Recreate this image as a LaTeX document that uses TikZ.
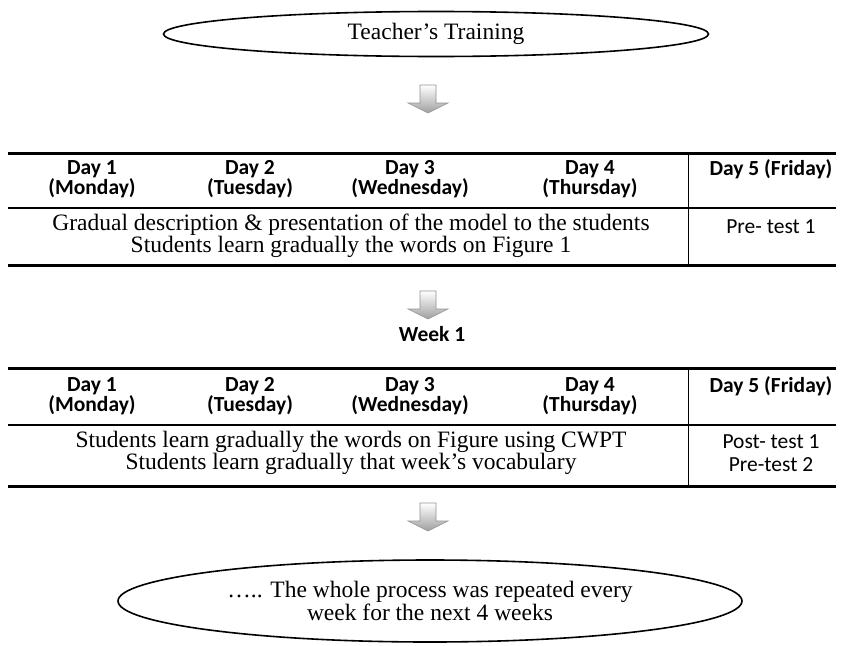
\documentclass[tikz,border=0pt]{standalone}
\usepackage{fontspec}
\setmainfont{Liberation Serif}
\newfontfamily\calfont{Carlito}
\usetikzlibrary{shapes.geometric,calc}
\tikzset{
  oval/.style={ellipse,draw,line width=1.6pt,inner sep=0pt,font=\fontsize{23.5}{23}\selectfont,align=center},
  hdr/.style={font=\calfont\bfseries\fontsize{21.5}{19}\selectfont,align=center,inner sep=0pt},
  body/.style={font=\fontsize{23.5}{22}\selectfont,align=center,inner sep=0pt},
  side/.style={font=\calfont\fontsize{21.5}{23}\selectfont,align=center,inner sep=0pt},
  thick rule/.style={line width=3pt},
  mid rule/.style={line width=1.6pt},
  vrule/.style={line width=1pt},
}
\newcommand{\blockarrow}[3]{% name, x, ytop
  \coordinate (#1) at (#2,#3);
  \shadedraw[top color=white,bottom color=gray!75,draw=gray!85,line width=0.6pt]
    ($(#1)+(-8,0)$) -- ($(#1)+(8,0)$) -- ($(#1)+(8,18)$) -- ($(#1)+(20,18)$) --
    ($(#1)+(0,28)$) -- ($(#1)+(-20,18)$) -- ($(#1)+(-8,18)$) -- cycle;
}
\begin{document}
\begin{tikzpicture}[x=1pt,y=-1pt]
\useasboundingbox (0,0) rectangle (843,645);
\node[oval,minimum width=545,minimum height=45] (train) at (436,34) {Teacher’s Training};
\blockarrow{a1}{428}{85}
% table 1
\draw[thick rule] (8,153) -- (836,153);
\draw[mid rule] (8,208) -- (836,208);
\draw[thick rule] (8,265) -- (836,265);
\draw[vrule] (688,153) -- (688,265);
\node[hdr] (t1d1) at (92,179) {Day 1\\(Monday)};
\node[hdr] (t1d2) at (250,179) {Day 2\\(Tuesday)};
\node[hdr] (t1d3) at (410,179) {Day 3\\(Wednesday)};
\node[hdr] (t1d4) at (590,179) {Day 4\\(Thursday)};
\node[hdr] (t1d5) at (771,169) {Day 5 (Friday)};
\node[body] (t1b) at (351,236) {Gradual description \& presentation of the model to the students\\Students learn gradually the words on Figure 1};
\node[side] (t1s) at (771,227) {Pre- test 1};
\blockarrow{a2}{428}{291}
\node[hdr] (wk) at (432,334) {Week 1};
% table 2
\draw[thick rule] (8,368) -- (836,368);
\draw[mid rule] (8,425) -- (836,425);
\draw[thick rule] (8,486) -- (836,486);
\draw[vrule] (688,368) -- (688,486);
\node[hdr] (t2d1) at (92,396) {Day 1\\(Monday)};
\node[hdr] (t2d2) at (250,396) {Day 2\\(Tuesday)};
\node[hdr] (t2d3) at (410,396) {Day 3\\(Wednesday)};
\node[hdr] (t2d4) at (590,396) {Day 4\\(Thursday)};
\node[hdr] (t2d5) at (771,386) {Day 5 (Friday)};
\node[body] (t2b) at (351,453) {Students learn gradually the words on Figure using CWPT\\Students learn gradually that week’s vocabulary};
\node[side] (t2s) at (771,453) {Post- test 1\\Pre-test 2};
\blockarrow{a3}{428}{503}
\node[oval,minimum width=624,minimum height=82] (rep) at (430,601) {….. The whole process was repeated every\\week for the next 4 weeks};
\end{tikzpicture}
\end{document}
